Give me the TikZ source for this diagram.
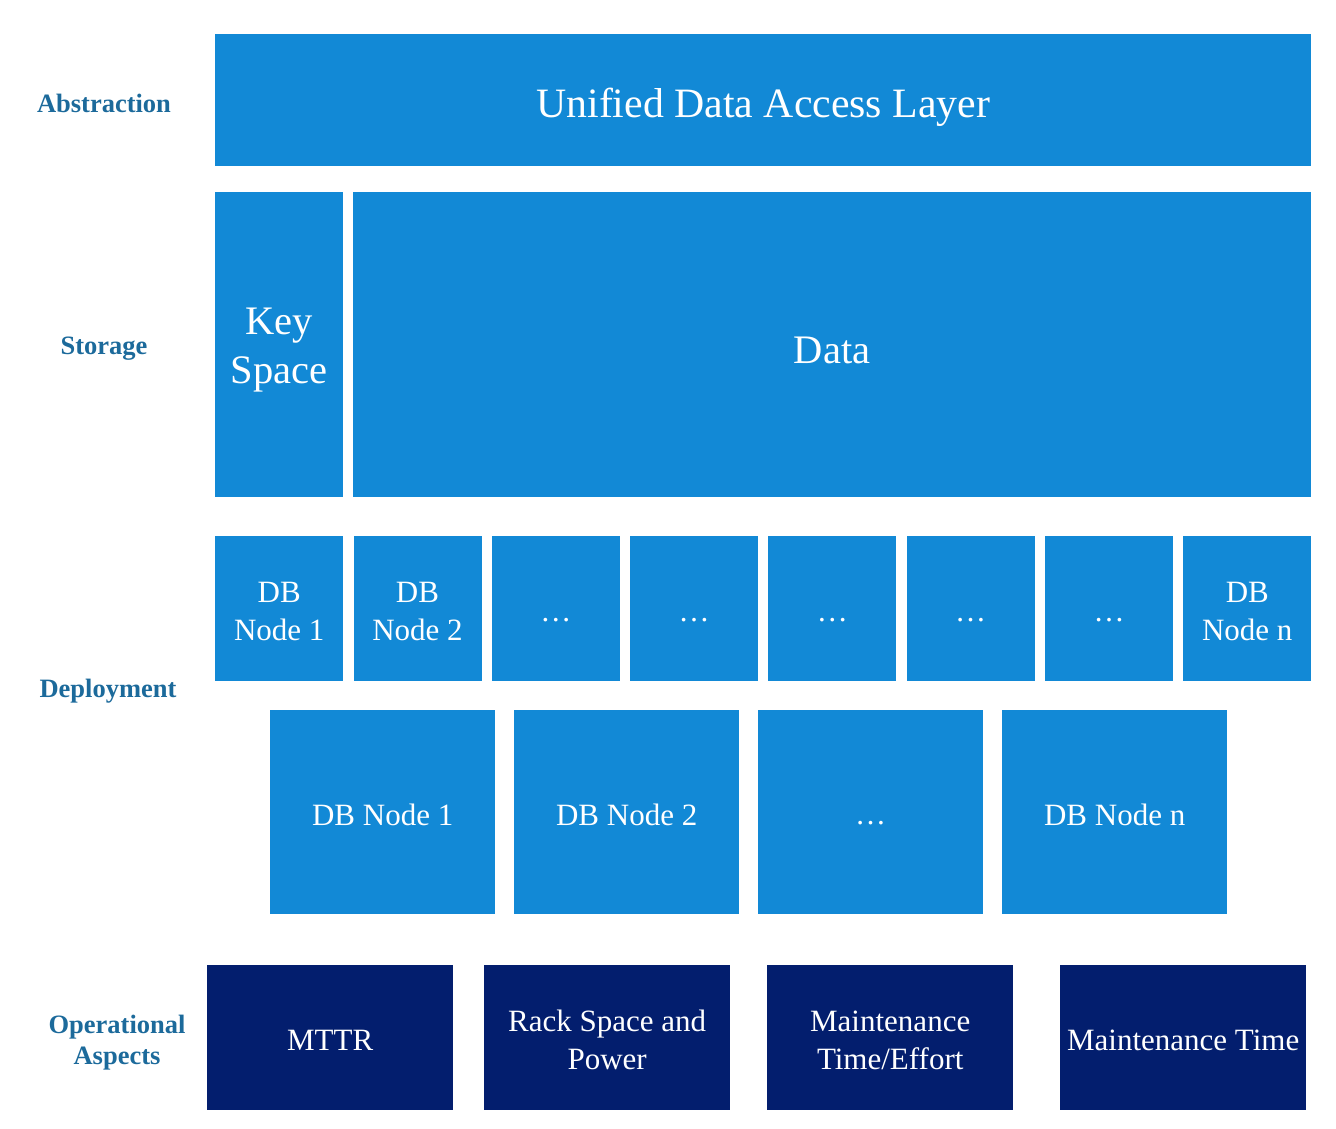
\documentclass[tikz,border=0pt]{standalone}
\usepackage{fontspec}
\setmainfont{Liberation Serif}

\definecolor{hellblau}{HTML}{1289D6}
\definecolor{dunkelblau}{HTML}{031E6E}
\definecolor{beschrift}{HTML}{1C6A9B}

% Zeilenhoehe oben (klein / gross)
\newcommand{\zk}{\rule{0pt}{26pt}}
\newcommand{\zg}{\rule{0pt}{38pt}}

\begin{document}
\begin{tikzpicture}[x=1pt, y=-1pt,
    feld/.style={fill=hellblau, text=white, inner sep=0pt, anchor=north west, align=center},
    normal/.style={feld, font=\fontsize{31}{37.5}\selectfont},
    gross/.style={feld, font=\fontsize{40.5}{49}\selectfont},
    betrieb/.style={normal, fill=dunkelblau, minimum width=246pt, minimum height=145pt},
    ebene/.style={text=beschrift, align=center, text depth=0pt,
        font=\fontsize{26.5}{31}\selectfont\bfseries}
    ]
        \useasboundingbox (0,0) rectangle (1336,1128);

        % Ebenen
        \node[ebene] (LAbstr) at (104,103) {Abstraction};
        \node[ebene] (LSpeich) at (104,346) {Storage};
        \node[ebene] (LEinsatz) at (108,688) {Deployment};
        \node[ebene] (LBetr) at (117,1040) {Operational\\Aspects};

        % Abstraktion
        \node[gross, font=\fontsize{41.8}{50}\selectfont, minimum width=1096pt, minimum height=132pt]
            (UDAL) at (215,34) {\rule{0pt}{44pt}Unified Data Access Layer};

        % Speicher
        \node[gross, minimum width=128pt, minimum height=305pt] (KeySp) at (215,192) {\zg Key\\Space};
        \node[gross, minimum width=958pt, minimum height=305pt] (Dat) at (353,192) {\zg Data};

        % Knoten, klein
        \foreach \t [count=\i] in {{DB\\Node 1},{DB\\Node 2},\ldots,\ldots,
                                  \ldots,\ldots,\ldots,{DB\\Node n}}
            \node[normal, minimum width=128pt, minimum height=145pt] (KK-\i)
                at ({215+138.3*(\i-1)},536) {\zk\t};

        % Knoten, gross
        \foreach \t [count=\i] in {DB Node 1,DB Node 2,\ldots,DB Node n}
            \node[normal, minimum width=225pt, minimum height=204pt] (GK-\i)
                at ({270+244*(\i-1)},710) {\zk\t};

        % Betrieb
        \node[betrieb] (MTTR) at (207,965) {\zk MTTR};
        \node[betrieb] (Rack) at (484,965) {\zk Rack Space and\\Power};
        \node[betrieb] (Wart) at (767,965) {\zk Maintenance\\Time/Effort};
        \node[betrieb] (WZeit) at (1060,965) {\zk Maintenance Time};
    \end{tikzpicture}
\end{document}
